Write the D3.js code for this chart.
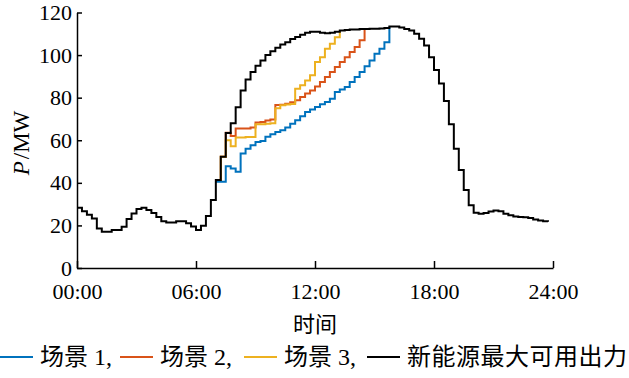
<!DOCTYPE html>
<html>
<head>
<meta charset="utf-8">
<script src="https://cdn.jsdelivr.net/npm/d3@7/dist/d3.min.js"></script>
<style>
  body { margin: 0; background: #fff; }
  text { font-family: "Liberation Serif", "Noto Sans CJK SC", serif; fill: #000; }
</style>
</head>
<body>
<div id="svgContainer"></div>
<script>
// chart data (15 min steps)
var stepHours = 0.25;
var maxAvail = [28.3,26.7,25,23.3,18.6,17,17,17.8,17.8,19.4,23,25.6,27.7,28.3,27.2,25.8,
  24,22,21.4,21.4,22,22,21,19.5,17.8,19.8,24.4,31.9,41.3,52.2,63.4,68,
  75.5,83.4,88.5,92,95,97.5,100,101.8,103.5,105,106,107.5,108.5,109.5,110.5,111,
  111,110.5,110.3,110.5,111,111.5,111.8,112,112,112.2,112.3,112.4,112.4,112.5,112.7,113.4,
  113.4,113,112.2,111.5,110,107.7,104.5,99,93,86.6,78.4,67.5,56,46,36.6,29.5,
  26,25.5,25.8,26.5,27,26.7,25.5,24.8,24.2,24,23.8,23.5,22.8,22.3,22,21.7];
var scenStart = 28; // scenarios begin at 07:00
var scen1 = [40.5,40.5,47.8,46.7,45.2,53.8,56,57.7,59.2,59.7,61.6,62.8,63.9,64.7,66,67.8,
  69.4,71.3,73.3,74.4,75.6,76.9,78,79.5,82.7,83.8,85,87.3,89.7,92,94.7,97.5,100.6,103,106,113.4];
var scen2 = [41.3,52.2,63.5,62,65.5,65.5,65.5,66,68.3,68.6,69.3,69.8,76.5,76.7,77.2,77.8,
  78.8,80.3,81.9,83.4,85.3,87.3,89.7,92,94.4,96.7,99,101.4,103.8,107,112.3];
var scen3 = [41.3,52.2,60,57.2,61.3,61.3,61.5,61.5,67.5,67.5,67.8,68,75,76.4,76.8,77,
  84.2,85.8,88.1,90.5,96.7,99,103,105.3,108.4,111.5];
var xTicks = [0,6,12,18,24];
var yTicks = [0,20,40,60,80,100,120];
var seriesNames = ["场景 1,","场景 2,","场景 3,","新能源最大可用出力"];
var seriesColors = ["#0072BD","#D95319","#EDB120","#000000"];

var svgWidth = 629, svgHeight = 378;
var svg = d3.select("#svgContainer").append("svg")
    .attr("width",svgWidth)
    .attr("height",svgHeight);
var margin = {top:12.5,left:77,right:76,bottom:110};

var x = d3.scaleLinear().domain([0,24]).range([margin.left, svgWidth - margin.right]);
var y = d3.scaleLinear().domain([0,120]).range([svgHeight - margin.bottom, margin.top]);

function toPoints(arr, start){
    return arr.map(function(v,i){ return {t:(start+i)*stepHours, v:v}; });
}
var series = [toPoints(scen1,scenStart), toPoints(scen2,scenStart), toPoints(scen3,scenStart), toPoints(maxAvail,0)];

var line = d3.line()
    .x(function(d){ return x(d.t); })
    .y(function(d){ return y(d.v); })
    .curve(d3.curveStepAfter);

svg.append("g").selectAll("path")
    .data(series)
    .enter()
    .append("path")
    .attr("d", line)
    .attr("fill","none")
    .attr("stroke", function(d,i){ return seriesColors[i]; })
    .attr("stroke-width",2);

// axes
var yAxis = svg.append("g")
    .attr("transform","translate(" + margin.left + ",0)")
    .call(d3.axisLeft(y).tickValues(yTicks).tickSizeInner(-5).tickSizeOuter(0).tickPadding(5));
var xAxis = svg.append("g")
    .attr("transform","translate(0," + (svgHeight - margin.bottom) + ")")
    .call(d3.axisBottom(x).tickValues(xTicks).tickSizeInner(-7).tickSizeOuter(0).tickPadding(15)
        .tickFormat(function(d){ return (d < 10 ? "0" : "") + d + ":00"; }));
[yAxis, xAxis].forEach(function(a){
    a.selectAll("path,line").attr("stroke","#000").attr("stroke-width",1.5);
    a.selectAll("text").attr("font-size",22).attr("font-family","Liberation Serif");
});

// axis titles
svg.append("text")
    .attr("x", x(12))
    .attr("y", 332)
    .attr("text-anchor","middle")
    .attr("font-size",22)
    .attr("font-family","Noto Sans CJK SC")
    .text("时间");

var yl = svg.append("text")
    .attr("transform","translate(29,143) rotate(-90)")
    .attr("text-anchor","middle")
    .attr("font-size",23);
yl.append("tspan").attr("font-style","italic").text("P");
yl.append("tspan").attr("dx",2).text("/MW");

// legend
var legendX = [0,120,244,367];
var legend = svg.selectAll(".legend")
    .data(seriesNames)
    .enter().append("g")
    .attr("class","legend")
    .attr("transform", function(d,i){ return "translate(" + legendX[i] + ",357)"; });
legend.append("line")
    .attr("x1",0).attr("x2",33)
    .attr("stroke", function(d,i){ return seriesColors[i]; })
    .attr("stroke-width",2);
legend.append("text")
    .attr("x",40)
    .attr("dy","0.35em")
    .attr("font-size",24)
    .attr("letter-spacing", function(d,i){ return i == 3 ? 0.5 : 0; })
    .text(function(d){ return d; });
</script>
</body>
</html>
